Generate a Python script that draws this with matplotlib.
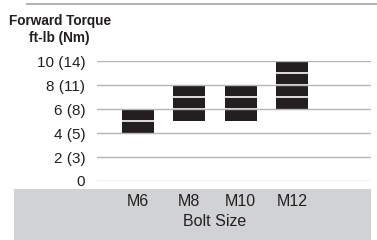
import matplotlib
matplotlib.use("Agg")
import matplotlib.pyplot as plt
from matplotlib.patches import Rectangle
import matplotlib.transforms as mtransforms

categories = ["M6", "M8", "M10", "M12"]
torque_low = [4, 5, 5, 6]
torque_high = [6, 8, 8, 10]
ytick_values = [0, 2, 4, 6, 8, 10]
ytick_labels = ["0", "2 (3)", "4 (5)", "6 (8)", "8 (11)", "10 (14)"]

plt.rcParams['font.family'] = ['Liberation Sans', 'DejaVu Sans']

W, H = 377, 240
fig = plt.figure(figsize=(W / 100, H / 100), dpi=100)

def fx(px):
    return px / W

def fy(py):
    return 1 - py / H

# gray band at bottom
fig.add_artist(Rectangle((fx(14), 0), fx(371) - fx(14), fy(189), transform=fig.transFigure,
                         facecolor="#d1d2d4", edgecolor="none", zorder=-5))
# top rule
fig.add_artist(Rectangle((fx(26), fy(5)), fx(377) - fx(26), 2.0 / H, transform=fig.transFigure,
                         facecolor="#b3b3b3", edgecolor="none", zorder=5))

ax = fig.add_axes([fx(97), fy(181), fx(371) - fx(97), fy(61) - fy(181)])
ax.set_zorder(2)
ax.patch.set_alpha(0)
ax.set_ylim(0, 10)
ax.set_xlim(-0.8, 4.54)

x = list(range(len(categories)))
bw = 0.62
heights = [h - l for l, h in zip(torque_low, torque_high)]
ax.bar(x, heights, bottom=torque_low, width=bw, color="#231f20", zorder=1)
for xi, lo, hi in zip(x, torque_low, torque_high):
    for v in range(lo + 1, hi):
        ax.hlines(v, xi - bw / 2, xi + bw / 2, color="white", linewidth=1.2, zorder=2)

ax.set_yticks(ytick_values)
ax.set_yticklabels(ytick_labels, fontsize=11, color="#231f20")
ax.yaxis.grid(True, color="#b5b5b5", linewidth=1.0, zorder=3)
ax.set_axisbelow(False)
ax.tick_params(axis="y", length=0, pad=8.5)
ax.set_xticks(x)
ax.set_xticklabels(categories, fontsize=11.5, color="#231f20")
ax.tick_params(axis="x", length=0, pad=9.5)
for s in ax.spines.values():
    s.set_visible(False)

trans = mtransforms.blended_transform_factory(ax.transData, fig.transFigure)
ax.text(1.5, fy(221), "Bolt Size", transform=trans, ha="center", va="center",
        fontsize=11.5, color="#231f20")

fig.text(fx(60), fy(21), "Forward Torque", ha="center", va="center", fontsize=9.8,
         fontweight="bold", color="#231f20")
fig.text(fx(59), fy(38), "ft-lb (Nm)", ha="center", va="center", fontsize=9.8,
         fontweight="bold", color="#231f20")

fig.savefig("out.png", dpi=100)
